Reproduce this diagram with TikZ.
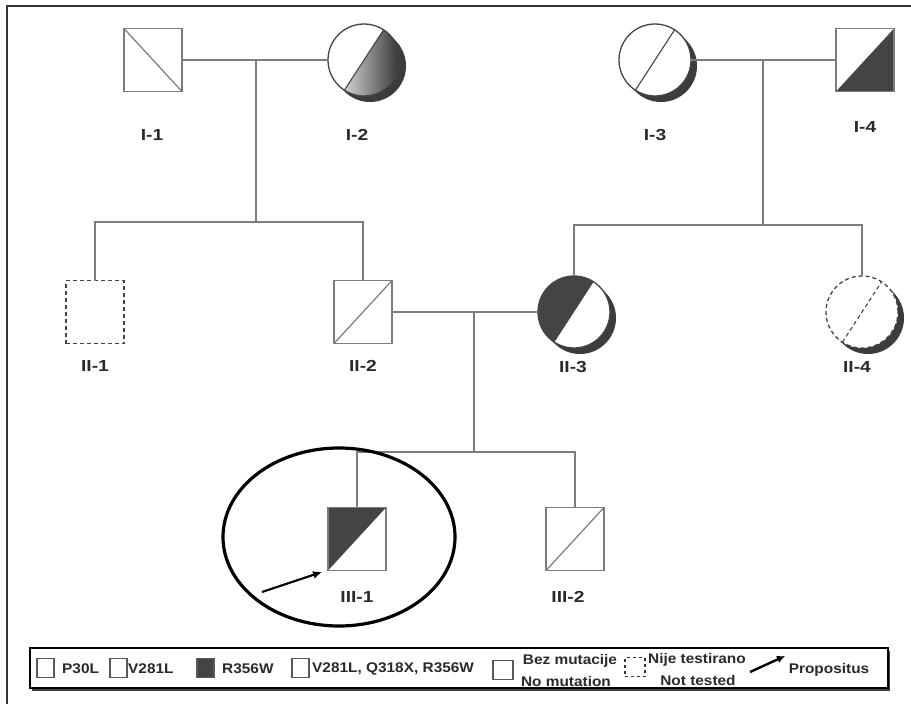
\documentclass[tikz,border=0pt]{standalone}
\usepackage{fontspec}
\setmainfont{Liberation Sans}
\usetikzlibrary{arrows.meta,calc,shadows,shapes.geometric}
\definecolor{pline}{HTML}{7C7C7C}
\definecolor{dk}{HTML}{444444}
\definecolor{shc}{HTML}{3C3C3C}
\definecolor{txt}{HTML}{2A2A2A}
\begin{document}
\begin{tikzpicture}[x=1pt,y=-1pt,
  sqr/.style={draw=pline, line width=1.8pt, fill=white, minimum width=58pt, minimum height=63pt, inner sep=0pt, outer sep=0pt},
  circ/.style={circle, draw=dk, line width=1.3pt, fill=white, minimum size=72pt, inner sep=0pt, outer sep=0pt,
     drop shadow={opacity=1, fill=shc, shadow xshift=6pt, shadow yshift=-6pt}},
  dsq/.style={sqr, draw=dk, dashed, dash pattern=on 4pt off 3pt, line width=1.5pt},
  diag/.style={draw=pline, line width=1.2pt},
  cdiag/.style={draw=dk, line width=1.1pt},
  conn/.style={draw=pline, line width=2pt},
  lab/.style={font=\fontsize{16}{18}\selectfont\bfseries, text=txt, inner sep=0pt, xscale=1.2},
  lsq/.style={draw=black!65, line width=1.2pt, fill=white, minimum width=17pt, minimum height=19pt, inner sep=0pt},
  ltxt/.style={font=\fontsize{14}{15}\selectfont\bfseries, text=txt, inner sep=0pt, xscale=1.1},
]
\useasboundingbox (0,0) rectangle (911,704);
\fill[white] (0,0) rectangle (911,704);
\draw[line width=2pt, black!80] (7,704) -- (7,6) -- (911,6);

% Generation I
\node[sqr, path picture={\draw[diag] (path picture bounding box.north west) -- (path picture bounding box.south east);}] (I1) at (153,60) {};
\node[circ, path picture={
   \shade[left color=white, right color=black!85] ([shift={(237:36pt)}]path picture bounding box.center) arc[start angle=237, end angle=417, radius=36pt] -- cycle;
   \draw[cdiag] ([shift={(237:36pt)}]path picture bounding box.center) -- ([shift={(57:36pt)}]path picture bounding box.center);}] (I2) at (364,60) {};
\node[circ, path picture={
   \draw[cdiag] ([shift={(237:36pt)}]path picture bounding box.center) -- ([shift={(57:36pt)}]path picture bounding box.center);}] (I3) at (655,60) {};
\node[sqr, path picture={\fill[dk] (path picture bounding box.south west) -- (path picture bounding box.north east) -- (path picture bounding box.south east) -- cycle;}] (I4) at (865,60) {};

\node[lab] (lI1) at (152,135) {I-1};
\node[lab] (lI2) at (357,135) {I-2};
\node[lab] (lI3) at (655,135) {I-3};
\node[lab] (lI4) at (865,127) {I-4};

% Generation II
\node[dsq] (II1) at (95,312) {};
\node[sqr, path picture={\draw[diag] (path picture bounding box.south west) -- (path picture bounding box.north east);}] (II2) at (363,312) {};
\node[circ, path picture={
   \fill[dk] ([shift={(57:36pt)}]path picture bounding box.center) arc[start angle=57, end angle=237, radius=36pt] -- cycle;}] (II3) at (574,312) {};
\node[circ, dashed, dash pattern=on 4pt off 3pt, path picture={
   \draw[cdiag, dashed, dash pattern=on 4pt off 3pt] ([shift={(237:36pt)}]path picture bounding box.center) -- ([shift={(57:36pt)}]path picture bounding box.center);}] (II4) at (862,312) {};

\node[lab] (lII1) at (95,366) {II-1};
\node[lab] (lII2) at (363,366) {II-2};
\node[lab] (lII3) at (573,367) {II-3};
\node[lab] (lII4) at (857,367) {II-4};

% Generation III
\node[sqr, path picture={\fill[dk] (path picture bounding box.south west) -- (path picture bounding box.north west) -- (path picture bounding box.north east) -- cycle;}] (III1) at (357,539) {};
\node[sqr, path picture={\draw[diag] (path picture bounding box.south west) -- (path picture bounding box.north east);}] (III2) at (575,539) {};
\node[lab] (lIII1) at (357,597) {III-1};
\node[lab] (lIII2) at (568,597) {III-2};

% connectors
\coordinate (m1) at (256,60);
\coordinate (s1) at (256,222);
\coordinate (m2) at (763,60);
\coordinate (s2) at (763,225);
\coordinate (m3) at (474,312);
\coordinate (s3) at (474,452);
\draw[conn] (I1.east) -- (I2.west);
\draw[conn] (I3.east) -- (I4.west);
\draw[conn] (m1) -- (s1);
\draw[conn] (m2) -- (s2);
\draw[conn] (II1.north) |- (s1) -| (II2.north);
\draw[conn] (II3.north) |- (s2) -| (II4.north);
\draw[conn] (II2.east) -- (II3.west);
\draw[conn] (m3) -- (s3);
\draw[conn] (III1.north) |- (s3) -| (III2.north);

% propositus
\node[ellipse, draw=black, line width=3.2pt, minimum width=232pt, minimum height=178pt, inner sep=0pt] (prop) at (339,537) {};
\coordinate (pa) at (262,592);
\coordinate (pb) at (322,572);
\draw[line width=2.2pt, -{Latex[length=9pt,width=8pt]}] (pa) -- (pb);

% legend
\node[draw=black, line width=1.8pt, fill=white, minimum width=858pt, minimum height=40pt, inner sep=0pt,
   drop shadow={opacity=1, fill=black!75, shadow xshift=1.5pt, shadow yshift=-2.5pt}] (lg) at (459,668) {};
\node[lsq] (k1) at (45.5,668) {};
\node[ltxt, anchor=west] (t1) at (62,669) {P30L};
\node[lsq] (k2) at (118.5,668) {};
\node[ltxt, anchor=west] (t2) at (128,669) {V281L};
\node[lsq, fill=dk] (k3) at (205.5,668) {};
\node[ltxt, anchor=west] (t3) at (222,669) {R356W};
\node[lsq] (k4) at (300.5,668) {};
\node[ltxt, anchor=west] (t4) at (312,669) {V281L, Q318X, R356W};
\node[lsq, minimum width=20pt] (k5) at (503,670) {};
\node[ltxt] (t5a) at (570,661) {Bez mutacije};
\node[ltxt] (t5b) at (566,681) {No mutation};
\node[lsq, draw=black!80, dashed, dash pattern=on 3pt off 3pt, minimum width=20pt] (k6) at (635,667) {};
\node[ltxt] (t6a) at (697,660) {Nije testirano};
\node[ltxt] (t6b) at (698,680) {Not tested};
\coordinate (la) at (750,672);
\coordinate (lb) at (785,656);
\draw[line width=2.4pt, -{Latex[length=8pt,width=8pt]}] (la) -- (lb);
\node[ltxt] (t7) at (829,670) {Propositus};
\end{tikzpicture}
\end{document}
